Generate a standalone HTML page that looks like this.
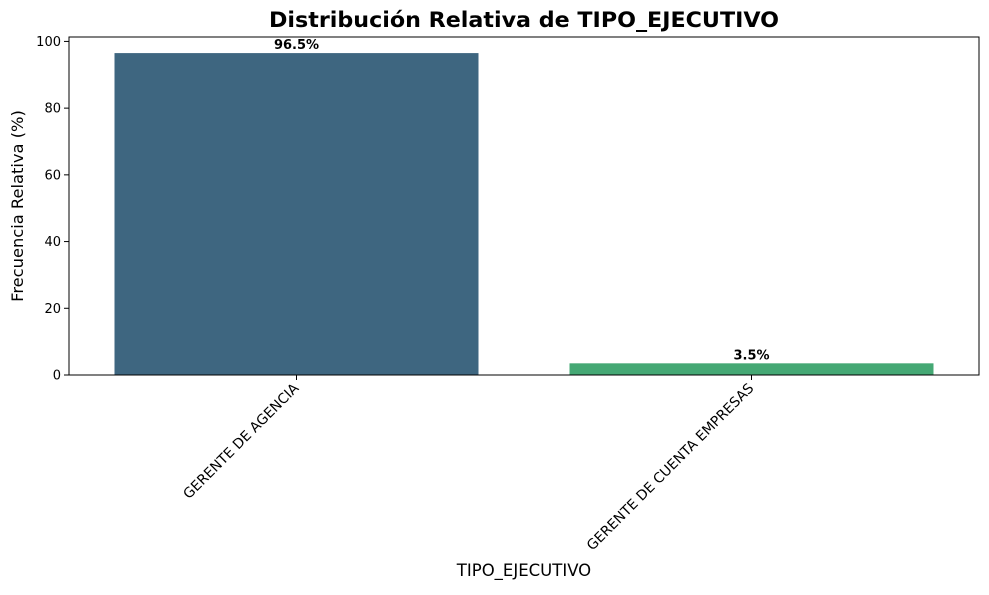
<!DOCTYPE html>
<html><head><meta charset="utf-8"><style>
body{margin:0;background:#fff;font-family:"Liberation Sans","DejaVu Sans",sans-serif}
</style></head><body>
<svg id="chart" width="989" height="590" xmlns="http://www.w3.org/2000/svg">
<text x="524" y="27" text-anchor="middle" font-size="21" font-weight="bold" font-family="DejaVu Sans, Liberation Sans, sans-serif" textLength="510" lengthAdjust="spacingAndGlyphs">Distribución Relativa de TIPO_EJECUTIVO</text>
<g id="plot"></g>
<text x="524" y="576" text-anchor="middle" font-size="16.5" font-family="DejaVu Sans, Liberation Sans, sans-serif">TIPO_EJECUTIVO</text>
<text transform="translate(23,206) rotate(-90)" text-anchor="middle" font-size="16.3" font-family="DejaVu Sans, Liberation Sans, sans-serif">Frecuencia Relativa (%)</text>
</svg>
<script>
const categories = ["GERENTE DE AGENCIA", "GERENTE DE CUENTA EMPRESAS"];
const values = [96.5, 3.5];
const colors = ["#3e6680", "#45a874"];
const yTicks = [0, 20, 40, 60, 80, 100];

const L = 69, R = 979, T = 37, B = 375;
const ymax = Math.max(...values) * 1.05;
const y = v => B - v / ymax * (B - T);
const step = (R - L) / categories.length;
const x = i => L + step * (i + 0.5);
const ns = "http://www.w3.org/2000/svg";
const g = document.getElementById("plot");
function mk(tag, attrs, text) {
  const e = document.createElementNS(ns, tag);
  for (const k in attrs) e.setAttribute(k, attrs[k]);
  if (text !== undefined) e.textContent = text;
  g.appendChild(e);
  return e;
}
const font = "DejaVu Sans, Liberation Sans, sans-serif";
values.forEach((v, i) => {
  const w = step * 0.8;
  const r = mk("rect", {x: x(i) - w / 2, y: y(v), width: w, height: B - y(v), fill: colors[i]});
  
  
  const t = mk("text", {x: x(i), y: y(v) - 4, "text-anchor": "middle", "font-size": 13, "font-weight": "bold", "font-family": font}, v.toFixed(1) + "%");
  
  
  const tk = mk("line", {x1: x(i), x2: x(i), y1: B, y2: B + 5, stroke: "#000"});
  
  
  const lb = mk("text", {transform: `translate(${x(i) + 3},${B + 14}) rotate(-45)`, "text-anchor": "end", "font-size": 13.9, "font-family": font}, categories[i]);
  
  
});
yTicks.forEach(v => {
  const tk = mk("line", {x1: L - 5, x2: L, y1: y(v), y2: y(v), stroke: "#000"});
  
  
  const lb = mk("text", {x: L - 8, y: y(v) + 4.5, "text-anchor": "end", "font-size": 13, "font-family": font}, v);
  
  
});
const fr = mk("rect", {x: L, y: T, width: R - L, height: B - T, fill: "none", stroke: "#000", "stroke-width": 1});


</script>
</body></html>
